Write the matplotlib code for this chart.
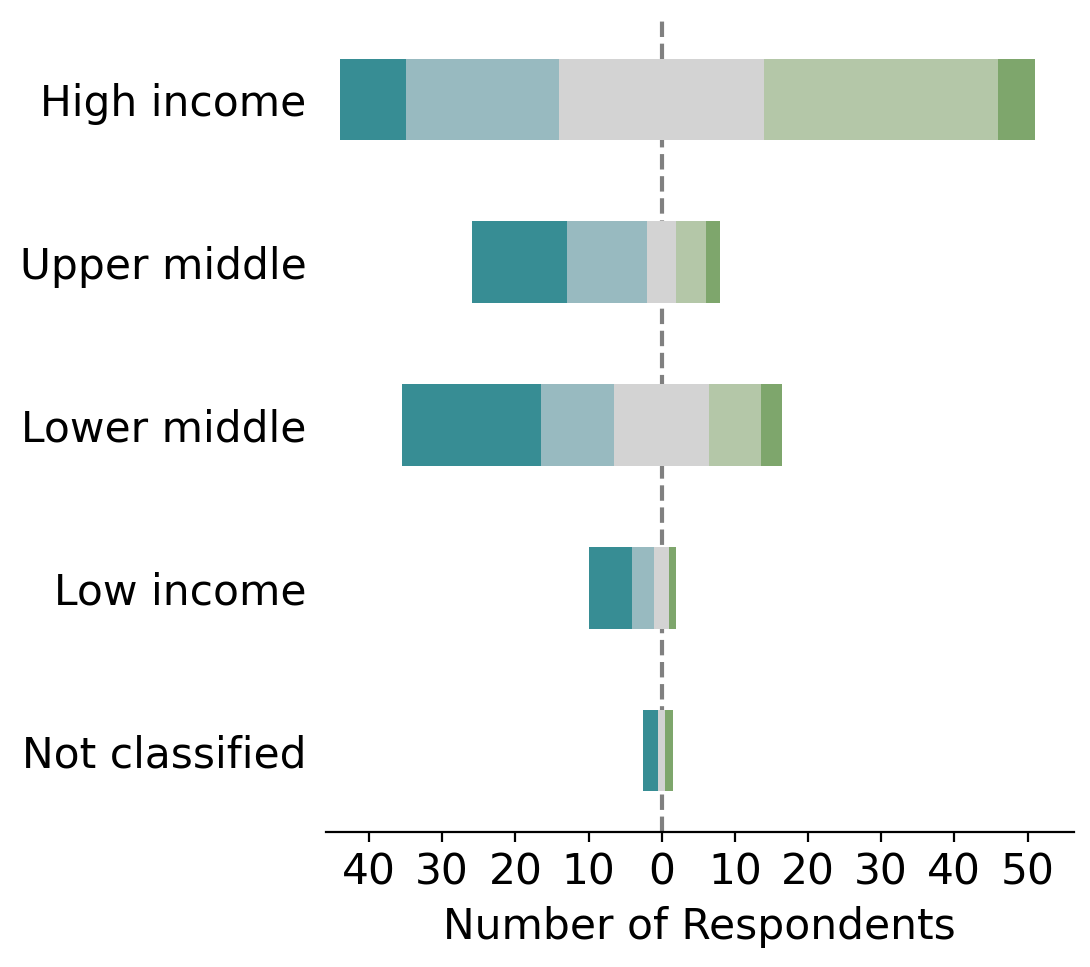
import matplotlib
matplotlib.use("Agg")
import matplotlib.pyplot as plt
import numpy as np

categories = ["High income", "Upper middle", "Lower middle", "Low income", "Not classified"]
strongly_neg = [9, 13, 19, 6, 2]
neg = [21, 11, 10, 3, 0]
neutral = [28, 4, 13, 2, 1]
pos = [32, 4, 7, 0, 0]
strongly_pos = [5, 2, 3, 1, 1]
tick_values = [-40, -30, -20, -10, 0, 10, 20, 30, 40, 50]
tick_labels = ["40", "30", "20", "10", "0", "10", "20", "30", "40", "50"]

colors = ["#378d94", "#98bac0", "#d3d3d3", "#b4c7a8", "#7ea66c"]

fig = plt.figure(figsize=(10.9, 9.67), dpi=100)
ax = fig.add_axes([0.299, 0.1396, 0.686, 0.8418])

sn = np.array(strongly_neg, float)
ng = np.array(neg, float)
nu = np.array(neutral, float)
ps = np.array(pos, float)
sp = np.array(strongly_pos, float)
y = np.arange(len(categories))

start = -(sn + ng + nu / 2)
for vals, c in zip([sn, ng, nu, ps, sp], colors):
    ax.barh(y, vals, left=start, height=0.5, color=c, edgecolor="none", zorder=2)
    start = start + vals

ax.axvline(0, color="gray", linestyle="--", linewidth=3, zorder=1)

ax.set_yticks(y)
ax.set_yticklabels(categories, fontsize=30.5)
ax.set_ylim(4.5, -0.5)
ax.set_xlim(-45.9, 56.3)
ax.set_xticks(tick_values)
ax.set_xticklabels(tick_labels, fontsize=30.5)
ax.set_xlabel("Number of Respondents", fontsize=30.5, labelpad=9)

for s in ["top", "right", "left"]:
    ax.spines[s].set_visible(False)
ax.spines["bottom"].set_linewidth(1.6)
ax.tick_params(axis="x", length=7, width=1.6, pad=7)
ax.tick_params(axis="y", length=0, pad=14)

fig.savefig("out.png", dpi=100)
